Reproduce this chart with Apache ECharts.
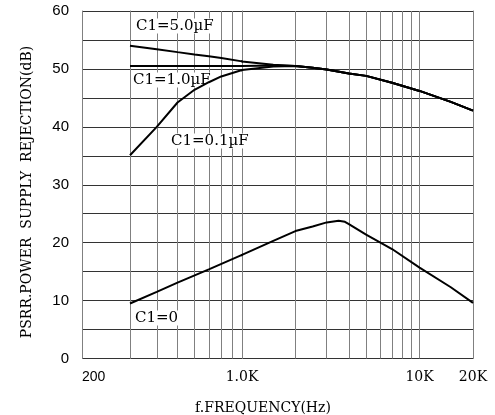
<!DOCTYPE html>
<html>
<head>
<meta charset="utf-8">
<script src="https://cdn.jsdelivr.net/npm/echarts@6/dist/echarts.min.js"></script>
<style>
html,body{margin:0;padding:0;background:#fff;}
#chart{width:495px;height:415px;}
</style>
</head>
<body>
<div id="chart"></div>
<script>
// ---- data ----
const FREQ_CAP = [300, 400, 500, 600, 700, 800, 1000, 1500, 2000, 2500, 3000, 4000, 5000, 7000, 10000, 15000, 20000];
const PSRR_C1_5UF = [54.0, 53.4, 52.9, 52.5, 52.2, 51.9, 51.3, 50.7, 50.5, 50.2, 49.9, 49.2, 48.8, 47.6, 46.2, 44.3, 42.8];
const PSRR_C1_1UF = [50.5, 50.5, 50.5, 50.5, 50.5, 50.5, 50.5, 50.6, 50.5, 50.2, 49.9, 49.2, 48.8, 47.6, 46.2, 44.3, 42.8];
const PSRR_C1_01UF = [35.1, 40.0, 44.2, 46.4, 47.7, 48.7, 49.8, 50.4, 50.5, 50.2, 49.9, 49.2, 48.8, 47.6, 46.2, 44.3, 42.8];
const FREQ_C0 = [300, 400, 500, 700, 1000, 1500, 2000, 2500, 3000, 3500, 3800, 4000, 5000, 7000, 10000, 15000, 20000];
const PSRR_C1_0 = [9.5, 11.5, 13.1, 15.4, 17.9, 20.3, 22.0, 22.8, 23.5, 23.8, 23.6, 23.2, 21.4, 18.9, 15.7, 12.3, 9.6];

const CURVE_LABELS = ['C1=5.0µF', 'C1=1.0µF', 'C1=0.1µF', 'C1=0'];
const X_TICKS = [200, 1000, 10000, 20000];
const X_TICK_LABELS = ['200', '1.0K', '10K', '20K'];
const X_GRID_HZ = [400, 500, 600, 700, 800, 900, 2000, 3000, 4000, 5000, 6000, 7000, 8000, 9000, 10000];
const Y_TICKS = [0, 10, 20, 30, 40, 50, 60];
const X_TITLE = 'f.FREQUENCY(Hz)';
const Y_TITLE = 'PSRR.POWER  SUPPLY  REJECTION(dB)';

// axis ranges of the (piecewise-drawn) log frequency axis
const SEG_RANGES = [[200, 300], [300, 1000], [1000, 20000]];

// ---- layout ----
const SEG_PX = [82, 130, 242, 473];
const TOP = 11, HEIGHT = 347.5;
const SERIF = '"DejaVu Serif", serif';
const SANS = '"Liberation Sans", Arial, sans-serif';

const curves = [
  {x: FREQ_CAP, y: PSRR_C1_5UF},
  {x: FREQ_CAP, y: PSRR_C1_1UF},
  {x: FREQ_CAP, y: PSRR_C1_01UF},
  {x: FREQ_C0, y: PSRR_C1_0}
];

const grids = [], xAxes = [], yAxes = [], series = [];
SEG_RANGES.forEach(([mn, mx], i) => {
  grids.push({left: SEG_PX[i], width: SEG_PX[i + 1] - SEG_PX[i], top: TOP, height: HEIGHT, containLabel: false});
  const ticks = X_TICKS.filter(v => v >= mn && v <= mx && !(i < SEG_RANGES.length - 1 && v === mx));
  xAxes.push({
    type: 'log', logBase: 10, gridIndex: i, min: mn, max: mx,
    axisLine: {show: false}, axisTick: {show: false}, splitLine: {show: false},
    axisLabel: {
      show: ticks.length > 0,
      customValues: ticks,
      margin: 12,
      alignMinLabel: i === 0 ? 'left' : 'center',
      formatter: v => {
        const k = X_TICKS.indexOf(Math.round(v));
        return k >= 0 ? X_TICK_LABELS[k] : '';
      },
      color: '#000',
      fontSize: 14,
      fontFamily: i === 0 ? SANS : SERIF
    }
  });
  yAxes.push({
    type: 'value', gridIndex: i, min: 0, max: 60, interval: 5,
    axisLine: {show: true, lineStyle: {color: '#808080', width: 1}},
    axisTick: {show: false},
    axisLabel: {
      show: i === 0,
      formatter: v => (Y_TICKS.indexOf(v) >= 0 ? String(v) : ''),
      color: '#000', fontSize: 15, fontFamily: SANS, margin: 13,
      padding: [7, 0, 0, 0]
    },
    splitLine: {show: true, lineStyle: {color: '#333', width: 1}}
  });
  if (i === 0) return;
  const inner = X_GRID_HZ.filter(v => v > mn && v < mx);
  curves.forEach((c, k) => {
    const s = {
      type: 'line', xAxisIndex: i, yAxisIndex: i,
      data: c.x.map((f, j) => [f, c.y[j]]),
      showSymbol: false, symbol: 'none', clip: true, silent: true,
      lineStyle: {color: '#000', width: 2}, z: 20
    };
    if (k === 0) {
      s.markLine = {
        silent: true, symbol: 'none', label: {show: false}, z: 1,
        lineStyle: {color: '#808080', width: 1, type: 'solid'},
        data: inner.map(v => ({xAxis: v}))
      };
    }
    series.push(s);
  });
});
// right border of plot
yAxes.push({
  type: 'value', gridIndex: SEG_RANGES.length - 1, min: 0, max: 60, position: 'right',
  axisLine: {show: true, lineStyle: {color: '#808080', width: 1}},
  axisTick: {show: false}, axisLabel: {show: false}, splitLine: {show: false}
});

const txt = (text, x, y, opts, bg) => ({
  type: 'text', x: x, y: y, silent: true, z: 15,
  style: Object.assign({
    text: text, fill: '#000', font: '15px ' + SERIF, textAlign: 'left', textVerticalAlign: 'middle'
  }, bg ? {backgroundColor: '#fff', padding: [0, 1, 0, 1]} : {}, opts || {})
});

const graphics = [
  txt(CURVE_LABELS[0], 135, 26, null, true),
  txt(CURVE_LABELS[1], 132, 80, null, true),
  txt(CURVE_LABELS[2], 170, 141, null, true),
  txt(CURVE_LABELS[3], 134, 318, null, true),
  txt(X_TITLE, 263, 408, {textAlign: 'center', font: '14px ' + SERIF}),
  Object.assign(txt(Y_TITLE, 27, 192, {textAlign: 'center', font: '14px ' + SERIF}), {rotation: Math.PI / 2})
];

const chart = echarts.init(document.getElementById('chart'), null, {renderer: 'canvas'});
chart.setOption({
  animation: false,
  backgroundColor: '#fff',
  grid: grids,
  xAxis: xAxes,
  yAxis: yAxes,
  series: series,
  graphic: graphics
});
</script>
</body>
</html>
